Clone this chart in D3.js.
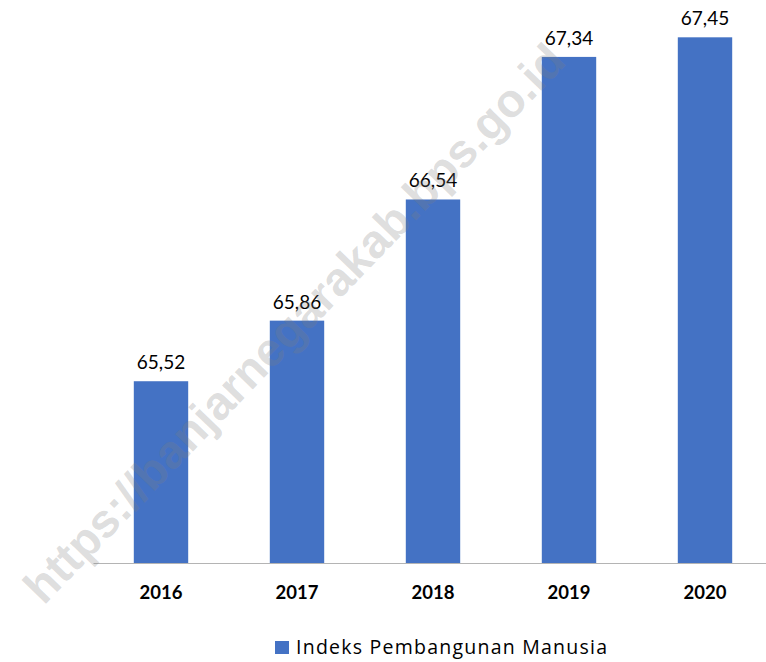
<!DOCTYPE html>
<html>

<head>
    <meta charset="UTF-8">
    <title>Indeks Pembangunan Manusia</title>
    <script src="https://cdn.jsdelivr.net/npm/d3@7"></script>
    <style>
        body { margin: 0; background: #fff; }
        svg { display: block; }
    </style>
</head>

<body>
    <div id="chart"></div>
    <script>

        // data
        var years = ["2016", "2017", "2018", "2019", "2020"]
        var ipm = [65.52, 65.86, 66.54, 67.34, 67.45]
        var seriesName = "Indeks Pembangunan Manusia"
        var yDomain = [64.5, 67.5]
        var watermark = "https://banjarnegarakab.bps.go.id"

        var width = 766, height = 662

        var svg = d3.select("#chart")
            .append("svg")
            .attr("width", width)
            .attr("height", height)

        var x = d3.scaleBand()
            .domain(years)
            .range([93, 773])
            .paddingInner(0.6)
            .paddingOuter(0.3)

        var y = d3.scaleLinear()
            .domain(yDomain)
            .range([563, 28.4])

        var fmt = function (v) { return d3.format(".2f")(v).replace(".", ",") }

        // bars
        svg.selectAll(".bar")
            .data(ipm)
            .enter()
            .append("rect")
            .attr("class", "bar")
            .attr("x", function (d, i) { return x(years[i]) })
            .attr("y", function (d) { return y(d) })
            .attr("width", x.bandwidth())
            .attr("height", function (d) { return y(yDomain[0]) - y(d) })
            .style("fill", "#4472c4")

        // value labels
        svg.selectAll(".lbl")
            .data(ipm)
            .enter()
            .append("text")
            .attr("class", "lbl")
            .attr("x", function (d, i) { return x(years[i]) + x.bandwidth() / 2 })
            .attr("y", function (d) { return y(d) - 12 })
            .attr("text-anchor", "middle")
            .style("font-family", "Lato, sans-serif")
            .style("font-size", "19px")
            .style("fill", "#000")
            .text(fmt)

        // x axis
        var xAxis = svg.append("g")
            .attr("transform", "translate(0," + y(yDomain[0]) + ")")
            .call(d3.axisBottom(x).tickSize(0).tickSizeOuter(0).tickPadding(23))
        xAxis.select(".domain").attr("stroke", "#b4b4b4").attr("stroke-width", 1.2)
        xAxis.selectAll("text")
            .style("font-family", "Lato, sans-serif")
            .style("font-weight", "bold")
            .style("font-size", "18.5px")
            .style("fill", "#000")

        // legend
        var legend = svg.append("g").attr("transform", "translate(275,641)")
        legend.append("rect")
            .attr("width", 14)
            .attr("height", 13)
            .style("fill", "#4472c4")
        legend.append("text")
            .attr("x", 21)
            .attr("y", 13)
            .attr("textLength", 311)
            .attr("lengthAdjust", "spacing")
            .style("font-family", "'Open Sans', sans-serif")
            .style("font-size", "19.5px")
            .style("fill", "#000")
            .text(seriesName)

        // watermark, translucent, over everything
        svg.append("text")
            .attr("transform", "translate(294,323) rotate(-46)")
            .attr("text-anchor", "middle")
            .attr("dominant-baseline", "central")
            .style("font-family", "'Liberation Sans', Arial, sans-serif")
            .style("font-weight", "bold")
            .style("font-size", "47px")
            .style("fill", "#7f7f7f")
            .style("fill-opacity", 0.27)
            .text(watermark)

    </script>
</body>

</html>
